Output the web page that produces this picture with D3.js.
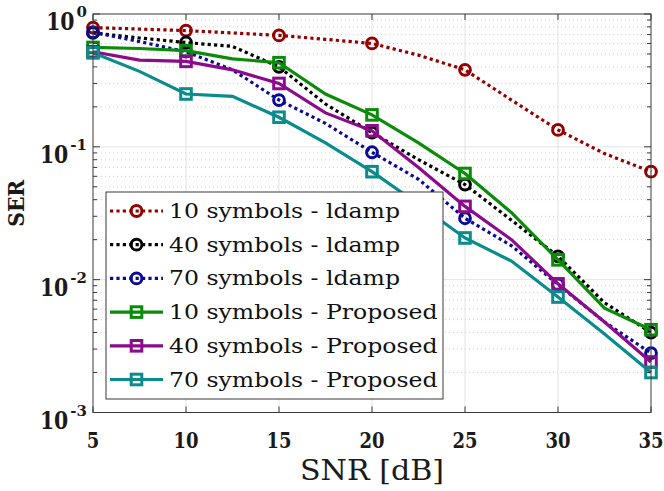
<!DOCTYPE html>
<html>
<head>
<meta charset="utf-8">
<script src="https://cdn.jsdelivr.net/npm/d3@7"></script>
<style>
  body { margin: 0; background: #fff; }
  svg { display: block; }
  text { font-family: "DejaVu Serif", serif; }
</style>
</head>
<body>
<div id="chart"></div>
<script>
// SNR в дБ, шаг 2.5, маркеры стоят на каждой второй точке
const snr = [5, 7.5, 10, 12.5, 15, 17.5, 20, 22.5, 25, 27.5, 30, 32.5, 35];
const xTicks = [5, 10, 15, 20, 25, 30, 35];
const yDecades = [0, -1, -2, -3];

const ldamp10 = [0.79, 0.77, 0.75, 0.72, 0.69, 0.645, 0.60, 0.49, 0.38, 0.225, 0.134, 0.089, 0.065];
const ldamp40 = [0.72, 0.66, 0.61, 0.57, 0.40, 0.21, 0.128, 0.080, 0.052, 0.028, 0.015, 0.0067, 0.0040];
const ldamp70 = [0.73, 0.62, 0.52, 0.38, 0.225, 0.15, 0.091, 0.057, 0.029, 0.018, 0.0092, 0.0048, 0.0028];
const prop10 = [0.56, 0.55, 0.53, 0.46, 0.43, 0.25, 0.174, 0.107, 0.063, 0.032, 0.0141, 0.0061, 0.0042];
const prop40 = [0.52, 0.45, 0.44, 0.38, 0.30, 0.18, 0.132, 0.070, 0.0356, 0.020, 0.0093, 0.0048, 0.0024];
const prop70 = [0.51, 0.37, 0.25, 0.24, 0.167, 0.107, 0.065, 0.037, 0.0206, 0.0138, 0.0074, 0.0039, 0.0020];

const seriesNames = [
    "10 symbols - ldamp", "40 symbols - ldamp", "70 symbols - ldamp",
    "10 symbols - Proposed", "40 symbols - Proposed", "70 symbols - Proposed"
];
const seriesValues = [ldamp10, ldamp40, ldamp70, prop10, prop40, prop70];
const seriesColors = ["#960000", "#000000", "#0a0a96", "#0a8c0a", "#8c0a8c", "#0a8c8c"];
const seriesMarkers = ["circle", "circle", "circle", "square", "square", "square"];
const seriesDotted = [true, true, true, false, false, false];

const width = 664, height = 491;
const margin = { left: 93, right: 13, top: 14, bottom: 78.5 };
const axisColor = "#3a3a3a";

const svg = d3.select("#chart")
    .append("svg")
    .attr("width", width)
    .attr("height", height);

const x = d3.scaleLinear().domain([5, 35]).range([margin.left, width - margin.right]);
const y = d3.scaleLog().domain([1e-3, 1]).range([height - margin.bottom, margin.top]);

const x0 = x.range()[0], x1 = x.range()[1];
const yTop = y.range()[1], yBot = y.range()[0];

// Мелкие деления логарифмической оси
const minorVals = [];
yDecades.slice(1).forEach(e => {
    for (let k = 2; k <= 9; k++) minorVals.push(k * Math.pow(10, e));
});

// Сетка
const grid = svg.append("g");
grid.selectAll(".minor")
    .data(minorVals)
    .enter()
    .append("line")
    .attr("x1", x0).attr("x2", x1)
    .attr("y1", d => y(d)).attr("y2", d => y(d))
    .attr("stroke", "#cfcfcf")
    .attr("stroke-width", 1)
    .attr("stroke-dasharray", "1,3");

grid.selectAll(".majorY")
    .data(yDecades.slice(1, 3))
    .enter()
    .append("line")
    .attr("x1", x0).attr("x2", x1)
    .attr("y1", d => y(Math.pow(10, d))).attr("y2", d => y(Math.pow(10, d)))
    .attr("stroke", "#e3e3e3")
    .attr("stroke-width", 1);

grid.selectAll(".majorX")
    .data(xTicks.slice(1, -1))
    .enter()
    .append("line")
    .attr("x1", d => x(d)).attr("x2", d => x(d))
    .attr("y1", yTop).attr("y2", yBot)
    .attr("stroke", "#e3e3e3")
    .attr("stroke-width", 1);

// Кривые
const line = d3.line()
    .x((d, i) => x(snr[i]))
    .y(d => y(d));

function drawMarker(g, type, cx, cy, color) {
    if (type === "circle") {
        g.append("circle")
            .attr("cx", cx).attr("cy", cy).attr("r", 5.4)
            .attr("fill", "none")
            .attr("stroke", color)
            .attr("stroke-width", 3);
    } else {
        g.append("rect")
            .attr("x", cx - 5.3).attr("y", cy - 5.3)
            .attr("width", 10.6).attr("height", 10.6)
            .attr("fill", "none")
            .attr("stroke", color)
            .attr("stroke-width", 3);
    }
}

const curves = svg.append("g");
seriesValues.forEach((vals, s) => {
    const g = curves.append("g");
    g.append("path")
        .datum(vals)
        .attr("d", line)
        .attr("fill", "none")
        .attr("stroke", seriesColors[s])
        .attr("stroke-width", 3.2)
        .attr("stroke-dasharray", seriesDotted[s] ? "3.2,3.2" : null);
    vals.forEach((v, i) => {
        if (i % 2 === 0) drawMarker(g, seriesMarkers[s], x(snr[i]), y(v), seriesColors[s]);
    });
});

// Рамка осей и деления
const axes = svg.append("g");
axes.append("rect")
    .attr("x", x0).attr("y", yTop)
    .attr("width", x1 - x0).attr("height", yBot - yTop)
    .attr("fill", "none")
    .attr("stroke", axisColor)
    .attr("stroke-width", 1);

xTicks.forEach(t => {
    axes.append("line")
        .attr("x1", x(t)).attr("x2", x(t))
        .attr("y1", yBot).attr("y2", yBot - 6)
        .attr("stroke", axisColor);
    axes.append("line")
        .attr("x1", x(t)).attr("x2", x(t))
        .attr("y1", yTop).attr("y2", yTop + 6)
        .attr("stroke", axisColor);
});

yDecades.forEach(e => {
    const yy = y(Math.pow(10, e));
    axes.append("line").attr("x1", x0).attr("x2", x0 + 7).attr("y1", yy).attr("y2", yy).attr("stroke", axisColor);
    axes.append("line").attr("x1", x1).attr("x2", x1 - 7).attr("y1", yy).attr("y2", yy).attr("stroke", axisColor);
});
minorVals.forEach(v => {
    const yy = y(v);
    axes.append("line").attr("x1", x0).attr("x2", x0 + 4).attr("y1", yy).attr("y2", yy).attr("stroke", axisColor);
    axes.append("line").attr("x1", x1).attr("x2", x1 - 4).attr("y1", yy).attr("y2", yy).attr("stroke", axisColor);
});

// Подписи делений
function stretch(sel, k) {
    sel.each(function () {
        const w = this.getComputedTextLength();
        d3.select(this).attr("textLength", w * k).attr("lengthAdjust", "spacingAndGlyphs");
    });
}

const xLabels = svg.append("g").selectAll("text")
    .data(xTicks)
    .enter()
    .append("text")
    .attr("x", d => x(d))
    .attr("y", 448)
    .attr("text-anchor", "middle")
    .attr("font-weight", "bold")
    .attr("font-size", "22.5px")
    .attr("fill", "#1a1a1a")
    .text(d => d);
stretch(xLabels, 0.8);

// Подписи 10^n: мантисса и показатель отдельными текстами
const yLabels = svg.append("g");
yDecades.forEach(e => {
    const yy = y(Math.pow(10, e));
    const ex = yLabels.append("text")
        .attr("x", 87)
        .attr("y", yy + 3)
        .attr("text-anchor", "end")
        .attr("font-weight", "bold")
        .attr("font-size", "15px")
        .attr("fill", "#1a1a1a")
        .text(e === 0 ? "0" : "-" + (-e));
    const exW = ex.node().getComputedTextLength();
    const base = yLabels.append("text")
        .attr("x", 87 - exW - 2)
        .attr("y", yy + 16)
        .attr("text-anchor", "end")
        .attr("font-weight", "bold")
        .attr("font-size", "24px")
        .attr("fill", "#1a1a1a")
        .text("10");
    stretch(base, 0.85);
});

// Подписи осей
svg.append("text")
    .attr("x", (x0 + x1) / 2)
    .attr("y", 480)
    .attr("text-anchor", "middle")
    .attr("font-size", "27px")
    .attr("fill", "#1a1a1a")
    .attr("textLength", 144)
    .attr("lengthAdjust", "spacingAndGlyphs")
    .text("SNR [dB]");

svg.append("text")
    .attr("transform", `translate(24, ${(yTop + yBot) / 2 - 10}) rotate(-90)`)
    .attr("text-anchor", "middle")
    .attr("font-weight", "bold")
    .attr("font-size", "22px")
    .attr("fill", "#1a1a1a")
    .attr("textLength", 47)
    .attr("lengthAdjust", "spacingAndGlyphs")
    .text("SER");

// Легенда
const legend = svg.append("g");
legend.append("rect")
    .attr("x", 106).attr("y", 192)
    .attr("width", 337).attr("height", 207)
    .attr("fill", "#fff")
    .attr("stroke", axisColor)
    .attr("stroke-width", 1);

const rowY = d3.scaleLinear().domain([0, 5]).range([211, 379.5]);
const legendTexts = [];
seriesNames.forEach((name, s) => {
    const cy = rowY(s);
    const g = legend.append("g");
    g.append("line")
        .attr("x1", 110).attr("x2", 163)
        .attr("y1", cy).attr("y2", cy)
        .attr("stroke", seriesColors[s])
        .attr("stroke-width", 3.2)
        .attr("stroke-dasharray", seriesDotted[s] ? "3.2,3.2" : null);
    drawMarker(g, seriesMarkers[s], 136.5, cy, seriesColors[s]);
    legendTexts.push(g.append("text")
        .attr("x", 169)
        .attr("y", cy + 7)
        .attr("font-size", "20px")
        .attr("fill", "#111")
        .text(name));
});

// Растягиваем текст легенды под ширину шрифта Computer Modern
const baseW = legendTexts[0].node().getComputedTextLength();
const k = 231 / baseW;
legendTexts.forEach(t => stretch(t, k));
</script>
</body>
</html>
